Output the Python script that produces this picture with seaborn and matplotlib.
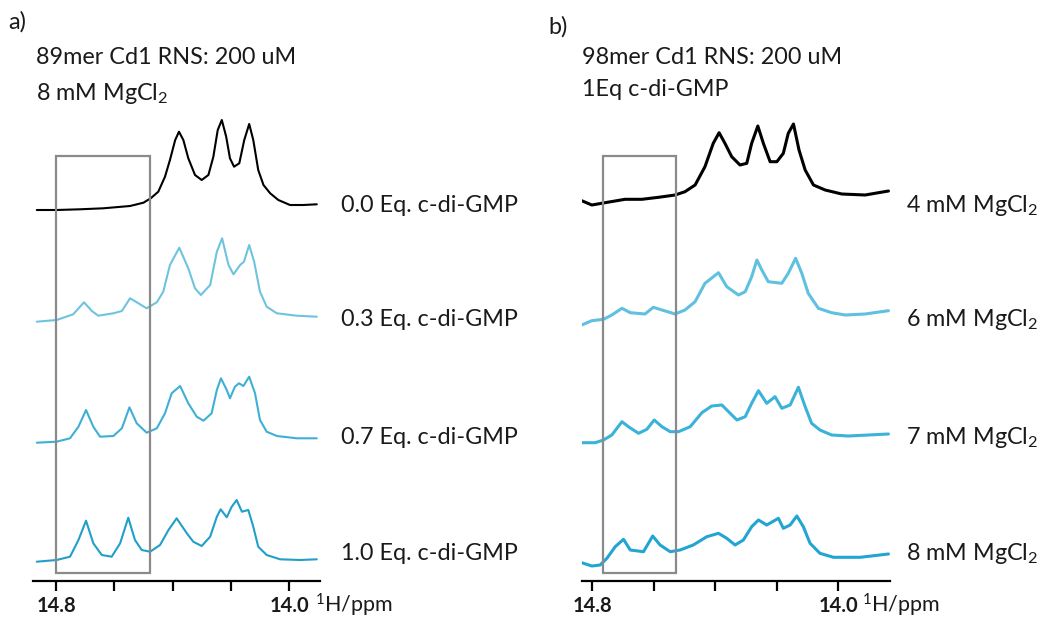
import numpy as np
import pandas as pd
import matplotlib
matplotlib.use("Agg")
import matplotlib.pyplot as plt
from matplotlib.patches import Rectangle
import seaborn as sns

# ---------------- data ----------------
# Panel a: 89mer Cd1 RNS, c-di-GMP titration
labels_a = ["0.0 Eq. c-di-GMP", "0.3 Eq. c-di-GMP", "0.7 Eq. c-di-GMP", "1.0 Eq. c-di-GMP"]
ppm_a0 = [14.866, 14.798, 14.718, 14.638, 14.546, 14.500, 14.475, 14.449, 14.426, 14.409, 14.391, 14.378,
          14.363, 14.346, 14.323, 14.300, 14.277, 14.260, 14.245, 14.231, 14.216, 14.203, 14.189, 14.171,
          14.154, 14.137, 14.123, 14.106, 14.088, 14.065, 14.037, 13.997, 13.951, 13.905]
int_a0 = [0, 0, 0.7, 1.7, 4, 7.3, 11.7, 18.3, 33.3, 50, 70, 78.3, 70, 51.7, 35, 30, 35, 53.3, 80, 90,
          73.3, 51.7, 43.3, 46.7, 70, 86, 70, 40, 25, 16.7, 10, 5, 5, 5.7]
ppm_a1 = [14.866, 14.798, 14.741, 14.704, 14.677, 14.655, 14.603, 14.574, 14.546, 14.517, 14.489, 14.454,
          14.432, 14.409, 14.377, 14.346, 14.323, 14.303, 14.271, 14.248, 14.230, 14.208, 14.191, 14.168,
          14.155, 14.137, 14.120, 14.100, 14.077, 14.042, 13.974, 13.905]
int_a1 = [0.3, 2, 7.7, 19.7, 11, 6.3, 8.7, 11, 23.7, 18.7, 13.7, 19.7, 30.3, 57, 74.3, 53.7, 33.7, 27, 37,
          70.3, 83.7, 57, 47.7, 57, 60.3, 77, 60.3, 30.3, 15.3, 8.7, 6.3, 5.3]
ppm_a2 = [14.866, 14.798, 14.752, 14.723, 14.697, 14.672, 14.649, 14.603, 14.574, 14.548, 14.523, 14.489,
          14.454, 14.426, 14.403, 14.374, 14.346, 14.317, 14.294, 14.266, 14.248, 14.234, 14.214, 14.203,
          14.186, 14.172, 14.157, 14.137, 14.117, 14.100, 14.077, 14.042, 13.974, 13.905]
int_a2 = [0.3, 1.3, 4.7, 16.3, 33, 16.3, 6.3, 7, 14.7, 35.7, 19.7, 10.3, 14.7, 29.7, 49.7, 57, 39.7, 26.3,
          22.3, 29.7, 53, 64.7, 53, 44.7, 56.3, 59.7, 57, 66.3, 49.7, 23, 11.3, 7, 4.7, 4.7]
ppm_a3 = [14.866, 14.798, 14.752, 14.723, 14.697, 14.672, 14.643, 14.609, 14.580, 14.552, 14.529, 14.506,
          14.477, 14.443, 14.414, 14.386, 14.351, 14.329, 14.300, 14.271, 14.248, 14.235, 14.214, 14.197,
          14.180, 14.162, 14.140, 14.123, 14.106, 14.077, 14.031, 13.962, 13.905]
int_a3 = [0.3, 2, 5.3, 22, 41.3, 18.7, 7, 5.3, 18.7, 44.3, 22, 12, 10.3, 17, 32, 43.7, 28.7, 20.3, 16,
          25.3, 45.3, 52.7, 44.7, 55.3, 62, 50.3, 52, 35.3, 15.3, 7, 2.7, 2, 2.7]

# Panel b: 98mer Cd1 RNS, 1 Eq c-di-GMP, MgCl2 titration
labels_b = ["4 mM MgCl$_\\mathregular{2}$", "6 mM MgCl$_\\mathregular{2}$",
            "7 mM MgCl$_\\mathregular{2}$", "8 mM MgCl$_\\mathregular{2}$"]
ppm_b0 = [14.834, 14.801, 14.758, 14.693, 14.638, 14.584, 14.530, 14.498, 14.465, 14.433, 14.406, 14.387,
          14.368, 14.346, 14.319, 14.297, 14.281, 14.261, 14.243, 14.221, 14.199, 14.178, 14.162, 14.145,
          14.127, 14.107, 14.080, 14.042, 13.988, 13.912, 13.836]
int_b0 = [4.3, 0, 2.3, 5.7, 5.7, 7.7, 10, 13.3, 20, 38.3, 61.7, 72.3, 61.7, 48.3, 40, 41.7, 61.7, 79,
          61.7, 43.3, 43.3, 51.7, 71.7, 81, 55, 35, 20, 15, 11, 10, 14]
ppm_b1 = [14.834, 14.801, 14.763, 14.736, 14.703, 14.676, 14.628, 14.601, 14.573, 14.530, 14.498, 14.465,
          14.433, 14.389, 14.362, 14.324, 14.302, 14.281, 14.264, 14.248, 14.227, 14.183, 14.162, 14.138,
          14.118, 14.097, 14.064, 14.021, 13.977, 13.912, 13.836]
int_b1 = [0, 4.3, 5.7, 10, 16.7, 12.3, 11, 17.7, 15, 11, 15, 23.3, 41.7, 52.3, 38.3, 30, 33.3, 48.3, 65,
          55, 43.3, 41.7, 51.7, 66.7, 51.7, 31.7, 16.7, 12.3, 10, 11, 14.3]
ppm_b2 = [14.834, 14.790, 14.763, 14.736, 14.703, 14.682, 14.649, 14.622, 14.598, 14.573, 14.546, 14.519,
          14.481, 14.443, 14.411, 14.378, 14.351, 14.329, 14.302, 14.281, 14.259, 14.232, 14.205, 14.183,
          14.156, 14.129, 14.107, 14.086, 14.059, 14.021, 13.967, 13.901, 13.836]
int_b2 = [0.3, 0.3, 3, 8, 21.3, 16.3, 9.7, 13.7, 23, 16.3, 11.3, 11.3, 16.3, 30.3, 37, 38, 29.7, 23, 26.3,
          39.7, 52.3, 39.7, 46.3, 34.7, 38, 55.7, 36.3, 19.7, 13, 8, 7, 8, 9]
ppm_b3 = [14.834, 14.801, 14.774, 14.752, 14.725, 14.698, 14.676, 14.633, 14.603, 14.579, 14.546, 14.514,
          14.471, 14.427, 14.389, 14.362, 14.335, 14.308, 14.281, 14.259, 14.232, 14.194, 14.178, 14.156,
          14.134, 14.113, 14.091, 14.059, 14.015, 13.928, 13.836]
int_b3 = [3.3, 0, 1, 7.7, 19.3, 26.7, 16, 14.3, 30, 21, 14.3, 16, 21, 29.3, 32.7, 27.7, 21, 26, 39.3, 46,
          41, 47.7, 37.7, 41, 50, 39.3, 22.7, 12.7, 8.7, 8.7, 12]

tick_values = [14.8, 14.6, 14.4, 14.2, 14.0]
tick_labels = ["14.8", "", "", "", "14.0"]
axis_label = "$^\\mathregular{1}$H/ppm"
titles_a = ["89mer Cd1 RNS: 200 uM", "8 mM MgCl$_\\mathregular{2}$"]
titles_b = ["98mer Cd1 RNS: 200 uM", "1Eq c-di-GMP"]

# ---------------- style ----------------
sns.set_theme(style="white")
plt.rcParams["font.family"] = ["Lato", "DejaVu Sans"]
plt.rcParams["mathtext.default"] = "regular"

W, H = 1043, 617
fig = plt.figure(figsize=(W / 100, H / 100), dpi=100)
fig.patch.set_facecolor("white")

colors = ["#000000", "#6ec3de", "#3fb0d3", "#219fc8"]
colors_b = ["#000000", "#5fc0e0", "#3bb2d9", "#22a5d2"]
text_color = "#1a1a1a"


def fx(px):
    return px / W


def fy(py):
    return 1 - py / H


def make_panel(rect, xlim, ppms, ints, offsets, color_list, lw, box):
    ax = fig.add_axes(rect)
    for p, v, off, c in zip(ppms, ints, offsets, color_list):
        df = pd.DataFrame({"ppm": p, "I": np.asarray(v) + off})
        sns.lineplot(data=df, x="ppm", y="I", ax=ax, color=c, lw=lw, estimator=None, sort=False,
                     solid_joinstyle="round", solid_capstyle="round")
    ax.set_xlim(*xlim)
    ax.set_ylim(0, 471)
    ax.set_xlabel("")
    ax.set_ylabel("")
    ax.set_yticks([])
    for s in ["top", "right", "left"]:
        ax.spines[s].set_visible(False)
    ax.spines["bottom"].set_color("black")
    ax.spines["bottom"].set_linewidth(1.6)
    ax.set_xticks(tick_values)
    ax.set_xticklabels(tick_labels, fontweight="bold", fontsize=14.5, color=text_color)
    ax.tick_params(axis="x", direction="out", length=7, width=1.6, colors="black", pad=4, bottom=True,
                   labelcolor=text_color)
    ax.set_facecolor("none")
    x0, x1 = box
    ax.add_patch(Rectangle((x0, 8), x1 - x0, 417, fill=False, edgecolor="#8a8a8a", lw=1.6, zorder=5))
    return ax


ax_a = make_panel([fx(33), fy(581), fx(320) - fx(33), fy(110) - fy(581)], (14.879, 13.894),
                  [ppm_a0, ppm_a1, ppm_a2, ppm_a3], [int_a0, int_a1, int_a2, int_a3],
                  [371, 259, 138, 19], colors, 1.5, (14.8, 14.477))
ax_b = make_panel([fx(582), fy(581), fx(890) - fx(582), fy(110) - fy(581)], (14.833, 13.831),
                  [ppm_b0, ppm_b1, ppm_b2, ppm_b3], [int_b0, int_b1, int_b2, int_b3],
                  [376, 256, 138, 15], colors_b, 2.2, (14.764, 14.527))

fs = 16.8
fig.text(fx(8), fy(22), "a)", fontsize=fs, va="center", ha="left", color=text_color)
fig.text(fx(548), fy(27), "b)", fontsize=fs, va="center", ha="left", color=text_color)
fig.text(fx(36), fy(58), titles_a[0], fontsize=fs, va="center", ha="left", color=text_color)
fig.text(fx(36), fy(93), titles_a[1], fontsize=fs, va="center", ha="left", color=text_color)
fig.text(fx(582), fy(58), titles_b[0], fontsize=fs, va="center", ha="left", color=text_color)
fig.text(fx(582), fy(90), titles_b[1], fontsize=fs, va="center", ha="left", color=text_color)

for lab, yy in zip(labels_a, [205, 320, 437, 553]):
    fig.text(fx(341), fy(yy), lab, fontsize=fs, va="center", ha="left", color=text_color)
for lab, yy in zip(labels_b, [205, 320, 437, 553]):
    fig.text(fx(906), fy(yy), lab, fontsize=fs, va="center", ha="left", color=text_color)

fig.text(fx(315), fy(605), axis_label, fontsize=15.5, va="center", ha="left", color=text_color)
fig.text(fx(862), fy(605), axis_label, fontsize=15.5, va="center", ha="left", color=text_color)

fig.savefig("out.png", dpi=100, facecolor="white")
